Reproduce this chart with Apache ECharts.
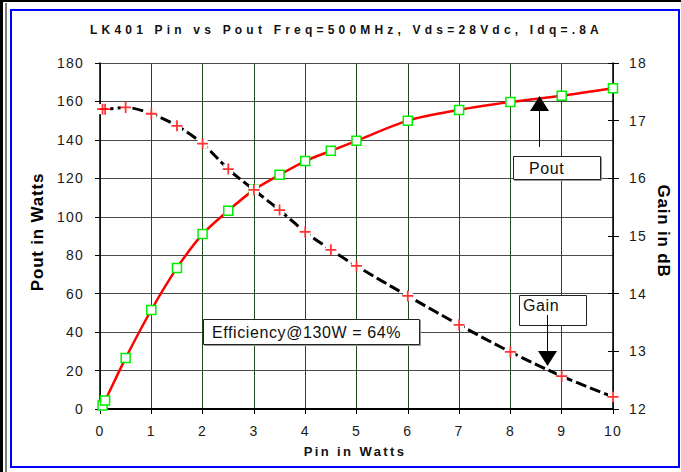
<!DOCTYPE html>
<html><head><meta charset="utf-8">
<script src="https://cdn.jsdelivr.net/npm/echarts@6/dist/echarts.min.js"></script>
<style>html,body{margin:0;padding:0;background:#fff}#chart{width:681px;height:472px}</style>
</head><body><div id="chart"></div>
<script>
// ---- data ----
const pinWatts = [0.05, 0.1, 0.5, 1, 1.5, 2, 2.5, 3, 3.5, 4, 4.5, 5, 6, 7, 8, 9, 10];
const poutWatts = [1.8, 4.4, 26.5, 51.5, 73.4, 91, 103.2, 114, 121.8, 129, 134.3, 139.5, 150, 155.6, 159.7, 163, 166.9];
const gainDb = [17.2, 17.2, 17.23, 17.12, 16.91, 16.6, 16.16, 15.8, 15.45, 15.07, 14.76, 14.48, 13.96, 13.46, 12.99, 12.57, 12.21];
const titleText = 'LK401 Pin vs Pout Freq=500MHz, Vds=28Vdc, Idq=.8A';
const xName = 'Pin in Watts', yLeftName = 'Pout in Watts', yRightName = 'Gain in dB';
const noteEff = 'Efficiency@130W = 64%', notePout = 'Pout', noteGain = 'Gain';

const FONT = "'Liberation Sans', Arial, sans-serif";
const poutPts = pinWatts.map((x, i) => [x, poutWatts[i]]);
const gainPts = pinWatts.map((x, i) => [x, gainDb[i]]);
const plusPath = 'path://M0,4.2L10,4.2L10,5.8L0,5.8Z M4.2,0L5.8,0L5.8,10L4.2,10Z';

const chart = echarts.init(document.getElementById('chart'), null, {renderer: 'svg'});
const lbl = {color: '#1a1a1a', fontSize: 14, fontFamily: FONT};
const option = {
  animation: false,
  backgroundColor: '#fff',
  grid: {left: 100, right: 68, top: 63, bottom: 63, containLabel: false},
  xAxis: {
    type: 'value', min: 0, max: 10, interval: 1,
    axisLine: {lineStyle: {color: '#000', width: 2}},
    axisTick: {length: 5, lineStyle: {color: '#000'}},
    axisLabel: Object.assign({margin: 15}, lbl),
    splitLine: {show: true, lineStyle: {color: '#1f4a1f', width: 1}}
  },
  yAxis: [
    {type: 'value', min: 0, max: 180, interval: 20, position: 'left',
     axisLine: {show: true, lineStyle: {color: '#000', width: 1.5}},
     axisTick: {show: true, length: 5, lineStyle: {color: '#000'}},
     axisLabel: Object.assign({margin: 16}, lbl),
     splitLine: {show: true, lineStyle: {color: '#4a4a4a', width: 1.2}}},
    {type: 'value', min: 12, max: 18, interval: 1, position: 'right',
     axisLine: {show: true, lineStyle: {color: '#000', width: 1.5}},
     axisTick: {show: true, length: 6, lineStyle: {color: '#000'}},
     axisLabel: Object.assign({margin: 16}, lbl),
     splitLine: {show: false}},
    {type: 'value', min: 12, max: 18, interval: 1, position: 'right',
     axisLine: {show: false}, axisLabel: {show: false}, splitLine: {show: false},
     axisTick: {show: true, inside: true, length: 5, lineStyle: {color: '#000'}}}
  ],
  series: [
    {name: 'Pout', type: 'line', yAxisIndex: 0, data: poutPts, smooth: 0.3,
     lineStyle: {color: '#ff0000', width: 2.5},
     symbol: 'rect', symbolSize: 9, showAllSymbol: true,
     itemStyle: {color: '#fff', borderColor: '#00ee00', borderWidth: 1.5}, z: 2},
    {name: 'Gain', type: 'line', yAxisIndex: 1, data: gainPts, smooth: 0.3,
     lineStyle: {color: '#000', width: 3, type: [11, 4]},
     symbol: 'rect', symbolSize: 10, showAllSymbol: true,
     itemStyle: {color: '#fff', borderWidth: 0}, z: 3},
    {name: 'GainMarks', type: 'scatter', yAxisIndex: 1, data: gainPts,
     symbol: plusPath, symbolSize: 11, itemStyle: {color: '#ff0000'}, z: 4}
  ],
  graphic: [
    // frame
    {type: 'rect', shape: {x: 11, y: 10, width: 668, height: 457}, style: {fill: 'none', stroke: '#0000ff', lineWidth: 2}, silent: true},
    {type: 'line', shape: {x1: 1.5, y1: 0, x2: 1.5, y2: 472}, style: {stroke: '#000', lineWidth: 3}},
    {type: 'line', shape: {x1: 0, y1: 1, x2: 681, y2: 1}, style: {stroke: '#000', lineWidth: 2}},
    {type: 'line', shape: {x1: 6, y1: 3, x2: 6, y2: 472}, style: {stroke: '#000', lineWidth: 1}},
    // title
    {type: 'text', x: 90, y: 29.5, style: {text: titleText, fill: '#111', font: 'bold 12px ' + FONT, textAlign: 'left', textVerticalAlign: 'middle'}},
    // axis names
    {type: 'text', x: 355, y: 451, style: {text: xName, fill: '#111', font: 'bold 13px ' + FONT, textAlign: 'center', textVerticalAlign: 'middle'}},
    {type: 'text', x: 37, y: 232, rotation: Math.PI / 2, style: {text: yLeftName, fill: '#000', font: 'bold 17px ' + FONT, textAlign: 'center', textVerticalAlign: 'middle'}},
    {type: 'text', x: 663, y: 231, rotation: -Math.PI / 2, style: {text: yRightName, fill: '#000', font: 'bold 17px ' + FONT, textAlign: 'center', textVerticalAlign: 'middle'}},
    // efficiency note
    {type: 'rect', z: 10, shape: {x: 203.5, y: 319.5, width: 216, height: 25}, style: {fill: '#fff', stroke: '#222', lineWidth: 1, shadowColor: '#999', shadowOffsetX: 1, shadowOffsetY: 1}},
    {type: 'text', z: 11, x: 212, y: 332, style: {text: noteEff, fill: '#111', font: '16px ' + FONT, textAlign: 'left', textVerticalAlign: 'middle'}},
    // Pout note + arrow
    {type: 'rect', z: 10, shape: {x: 513.5, y: 156.5, width: 87, height: 23}, style: {fill: '#fff', stroke: '#222', lineWidth: 1, shadowColor: '#999', shadowOffsetX: 1, shadowOffsetY: 1}},
    {type: 'text', z: 11, x: 529, y: 168, style: {text: notePout, fill: '#111', font: '16px ' + FONT, textAlign: 'left', textVerticalAlign: 'middle'}},
    {type: 'line', z: 10, shape: {x1: 539.5, y1: 147, x2: 539.5, y2: 110}, style: {stroke: '#000', lineWidth: 1}},
    {type: 'polygon', z: 10, shape: {points: [[530, 111], [549, 111], [539.5, 96]]}, style: {fill: '#000'}},
    // Gain note + arrow
    {type: 'rect', z: 10, shape: {x: 519.5, y: 295.5, width: 67, height: 30}, style: {fill: '#fff', stroke: '#222', lineWidth: 1}},
    {type: 'text', z: 11, x: 523, y: 305, style: {text: noteGain, fill: '#111', font: '16px ' + FONT, textAlign: 'left', textVerticalAlign: 'middle'}},
    {type: 'line', z: 10, shape: {x1: 547.5, y1: 315, x2: 547.5, y2: 352}, style: {stroke: '#000', lineWidth: 1}},
    {type: 'polygon', z: 10, shape: {points: [[538, 351], [557, 351], [547.5, 366]]}, style: {fill: '#000'}}
  ]
};
chart.setOption(option);

function applySpacing() {
  document.querySelectorAll('#chart svg text').forEach(t => {
    const s = t.textContent;
    let ls = '1.2px';
    if (s === titleText) ls = '4.2px';
    else if (s === xName) ls = '2.4px';
    else if (s === yLeftName || s === yRightName) ls = '0.8px';
    else if (s === noteEff || s === notePout || s === noteGain) ls = '0.6px';
    t.style.letterSpacing = ls;
  });
}
chart.on('finished', applySpacing);
applySpacing();
</script></body></html>
